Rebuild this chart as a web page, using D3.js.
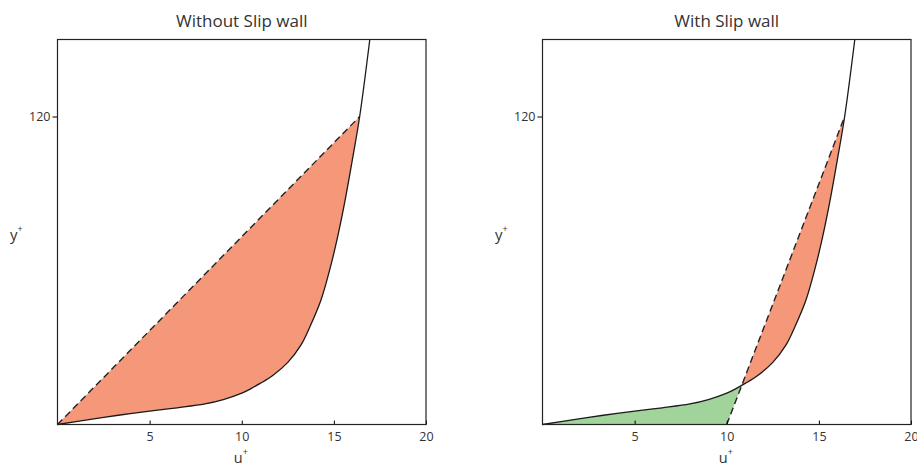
<!DOCTYPE html>
<html>
<head>
<meta charset="utf-8">
<script src="https://cdn.jsdelivr.net/npm/d3@7"></script>
<style>
  body { margin: 0; background: #fff; }
  text { font-family: "Open Sans", sans-serif; fill: #333; }
</style>
</head>
<body>
<script>
// canvas
const canvWidth = 917, canvHeight = 466;
const svg = d3.select("body").append("svg")
    .attr("width", canvWidth)
    .attr("height", canvHeight);

// velocity profile u+ vs y+ (solid curve, same in both panels)
const profileU = [0, 1.7, 3.3, 5.0, 6.5, 8.0, 9.0, 10.0, 10.5, 11.0, 11.7, 12.5, 13.2, 13.7, 14.3, 14.8, 15.2, 15.6, 16.0, 16.4, 16.95];
const profileY = [0, 1.9, 3.6, 5.2, 6.5, 8.0, 9.7, 12.2, 14.0, 16.0, 19.2, 24.2, 30.8, 38.1, 48.5, 61, 73, 87, 103, 120, 150];

// dashed reference lines: [start, end] as (u+, y+)
const noSlipLine = [[0, 0], [16.4, 120]];
const slipLine = [[10, 0], [16.4, 120]];

const titles = ["Without Slip wall", "With Slip wall"];
const xTicks = [5, 10, 15, 20];
const yTicks = [120];

const orange = "#f5987a", green = "#a0d49a";

const profile = profileU.map((u, i) => [u, profileY[i]]);

const panelLeft = [57.5, 542.5];
const panelW = 368.5, plotTop = 39.5, plotBottom = 424.5;

function dashY(line, u) {
    const [[u0, y0], [u1, y1]] = line;
    return y0 + (y1 - y0) * (u - u0) / (u1 - u0);
}

// where the dashed line crosses the solid profile
function crossing(line) {
    for (let i = 1; i < profile.length; i++) {
        const a = profile[i - 1], b = profile[i];
        const da = a[1] - dashY(line, a[0]);
        const db = b[1] - dashY(line, b[0]);
        if (da >= 0 && db < 0) {
            const t = da / (da - db);
            return [a[0] + t * (b[0] - a[0]), a[1] + t * (b[1] - a[1])];
        }
    }
    return line[0];
}

function drawPanel(idx, dashLine) {
    const x0 = panelLeft[idx];
    const xScale = d3.scaleLinear().domain([0, 20]).range([x0, x0 + panelW]);
    const yScale = d3.scaleLinear().domain([0, 150]).range([plotBottom, plotTop]);
    const g = svg.append("g");

    const line = d3.line()
        .x(d => xScale(d[0]))
        .y(d => yScale(d[1]))
        .curve(d3.curveCatmullRom.alpha(0.5));

    const yEnd = dashLine[1][1];
    const cross = crossing(dashLine);

    // orange region: between dashed line and profile, above the crossing
    const upper = [cross].concat(profile.filter(p => p[1] > cross[1] && p[1] <= yEnd));
    g.append("path")
        .attr("d", line(upper) + "Z")
        .attr("fill", orange);

    // green region: below the crossing, between profile and dashed line
    if (dashLine[0][0] > 0) {
        const lower = profile.filter(p => p[1] < cross[1]).concat([cross]);
        g.append("path")
            .attr("d", line(lower) + "L" + xScale(dashLine[0][0]) + "," + yScale(dashLine[0][1]) + "Z")
            .attr("fill", green);
    }

    // dashed line
    g.append("line")
        .attr("x1", xScale(dashLine[0][0]))
        .attr("y1", yScale(dashLine[0][1]))
        .attr("x2", xScale(dashLine[1][0]))
        .attr("y2", yScale(dashLine[1][1]))
        .attr("stroke", "#222")
        .attr("stroke-width", 1.4)
        .attr("stroke-dasharray", "7,4");

    // solid profile
    g.append("path")
        .attr("d", line(profile))
        .attr("fill", "none")
        .attr("stroke", "#1a1a1a")
        .attr("stroke-width", 1.3);

    // axes
    const xAxis = d3.axisBottom(xScale)
        .tickValues(xTicks)
        .tickSizeInner(-4)
        .tickSizeOuter(0)
        .tickPadding(8);
    g.append("g")
        .attr("transform", "translate(0," + plotBottom + ")")
        .call(xAxis)
        .call(a => a.select(".domain").remove())
        .call(a => a.selectAll("text").attr("font-size", 12.5).attr("font-family", "Open Sans").attr("fill", "#333"));

    const yAxis = d3.axisLeft(yScale)
        .tickValues(yTicks)
        .tickSizeInner(5)
        .tickSizeOuter(0)
        .tickPadding(2);
    g.append("g")
        .attr("transform", "translate(" + x0 + ",0)")
        .call(yAxis)
        .call(a => a.select(".domain").remove())
        .call(a => a.selectAll("text").attr("font-size", 12.5).attr("font-family", "Open Sans").attr("fill", "#333"));

    // frame
    g.append("rect")
        .attr("x", x0)
        .attr("y", plotTop)
        .attr("width", panelW)
        .attr("height", plotBottom - plotTop)
        .attr("fill", "none")
        .attr("stroke", "#222")
        .attr("stroke-width", 1.2);

    // title
    g.append("text")
        .attr("x", x0 + panelW / 2)
        .attr("y", 26.5)
        .attr("text-anchor", "middle")
        .attr("font-size", 17)
        .text(titles[idx]);

    // axis labels
    const ul = g.append("text")
        .attr("x", x0 + panelW / 2 - 1)
        .attr("y", 462.5)
        .attr("text-anchor", "middle")
        .attr("font-size", 14.5);
    ul.append("tspan").text("u");
    ul.append("tspan").attr("font-size", 9).attr("dy", -8).text("+");

    const yl = g.append("text")
        .attr("x", x0 - 47.5)
        .attr("y", 240)
        .attr("font-size", 15);
    yl.append("tspan").text("y");
    yl.append("tspan").attr("font-size", 9).attr("dy", -8).text("+");
}

drawPanel(0, noSlipLine);
drawPanel(1, slipLine);
</script>
</body>
</html>
